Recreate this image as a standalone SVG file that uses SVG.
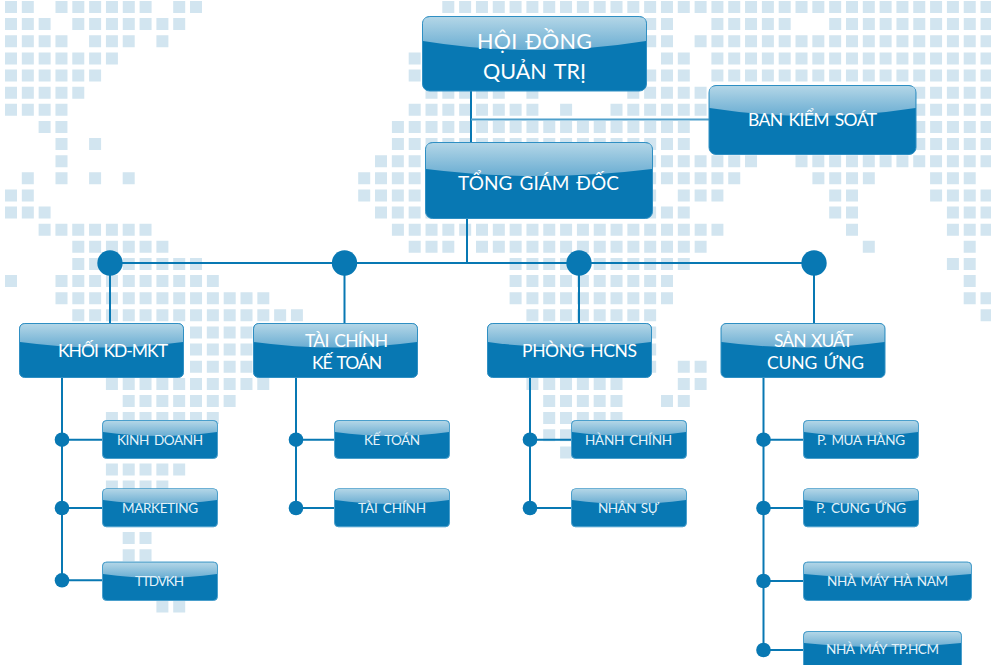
<svg xmlns="http://www.w3.org/2000/svg" width="991" height="665" viewBox="0 0 991 665">
<style>
.map{fill:none;stroke:#d2e5f0;stroke-width:12;stroke-dasharray:12 4.82}
.ln{fill:none;stroke:#0878b3;stroke-width:2}
.lt{fill:none;stroke:#4fa0cb;stroke-width:2}
.dot{fill:#0878b3}
.base{fill:#0878b3;stroke:#2f8fc3;stroke-width:1}
.sbase{fill:#0878b3;stroke:#4a9fcc;stroke-width:1}
.gloss{fill:url(#g)}
text{font-family:"Lato","Noto Sans","Liberation Sans",sans-serif;text-anchor:start;word-spacing:2px}
.t1{font-size:21.5px;fill:#fff}
.t2{font-size:17.5px;fill:#fff}
.t4{font-size:19px;fill:#fff}
.t3{font-size:13.5px;fill:#e3f2f9}
</style>
<defs>
<linearGradient id="g" x1="0" y1="0" x2="0" y2="1"><stop offset="0" stop-color="#b3d6e7"/><stop offset="1" stop-color="#6aadd2"/></linearGradient>
</defs>
<rect width="991" height="665" fill="#fff"/>
<path class="map" d="M5 7H33.8M55.5 7H151.6M173.2 7H202M442.3 7H992.6
M5 24.1H50.6M72.3 24.1H185.2M644.2 24.1H673M711.4 24.1H790.7M829.2 24.1H992.6
M5 41.3H67.5M89.1 41.3H134.7M156.4 41.3H168.4M644.2 41.3H673M694.6 41.3H992.6
M5 58.4H117.9M408.7 58.4H420.7M661 58.4H689.8M711.4 58.4H992.6
M5 75.5H101.1M408.7 75.5H420.7M644.2 75.5H689.8M711.4 75.5H992.6
M5 92.7H84.3M425.5 92.7H504.8M526.4 92.7H538.4M627.3 92.7H992.6
M5 109.8H67.5M408.7 109.8H538.4M560.1 109.8H572.1M610.5 109.8H992.6
M38.6 126.9H67.5M391.9 126.9H689.8M913.3 126.9H992.6
M55.5 144H67.5M89.1 144H101.1M391.9 144H689.8M913.3 144H992.6
M55.5 161.2H67.5M375 161.2H757.1M795.5 161.2H992.6
M21.8 178.3H33.8M55.5 178.3H67.5M89.1 178.3H101.1M122.7 178.3H134.7M358.2 178.3H740.3M812.4 178.3H874.8M930.1 178.3H975.7
M5 195.4H33.8M358.2 195.4H656.2M677.8 195.4H723.4M829.2 195.4H858M930.1 195.4H992.6
M5 212.6H50.6M375 212.6H689.8M829.2 212.6H858M946.9 212.6H992.6
M38.6 229.7H151.6M391.9 229.7H723.4M846 229.7H858M946.9 229.7H992.6
M72.3 246.8H168.4M408.7 246.8H454.3M476 246.8H706.6M862.8 246.8H874.8M963.7 246.8H975.7
M72.3 264H202M509.6 264H689.8M946.9 264H975.7
M5 281.1H17M55.5 281.1H218.8M509.6 281.1H673M963.7 281.1H975.7
M55.5 298.2H269.3M509.6 298.2H673M963.7 298.2H992.6
M72.3 315.3H302.9M526.4 315.3H656.2M980.6 315.3H992.6
M190 332.5H252.5M509.6 332.5H656.2
M190 349.6H252.5M509.6 349.6H656.2
M190 366.7H252.5M509.6 366.7H656.2M677.8 366.7H706.6
M105.9 383.9H269.3M526.4 383.9H622.5M677.8 383.9H706.6
M122.7 401H235.7M543.2 401H622.5M661 401H689.8
M105.9 418.1H218.8M543.2 418.1H622.5
M543.2 435.3H572.1
M560.1 452.4H572.1
M105.9 469.5H185.2
M105.9 486.6H168.4
M122.7 538H151.6
M122.7 555.2H151.6
M156.4 606.6H185.2"/>
<g id="connectors">
<path class="ln" d="M471 91V143"/>
<path class="lt" d="M471 119.5H709"/>
<path class="ln" d="M467 218V263M110 263H814M110 263V323M344.5 263V323M579 263V323M814 263V323"/>
<path class="ln" d="M62 378V580M62 439.7H103M62 508H103M62 580.3H103"/>
<path class="ln" d="M296 378V508M296 439.7H335M296 508H335"/>
<path class="ln" d="M530 378V508M530 439.7H572M530 508H572"/>
<path class="ln" d="M763.5 378V651M763.5 439.7H804M763.5 508H804M763.5 581H804M763.5 650H804"/>
<circle class="dot" cx="110" cy="263" r="12.7"/><circle class="dot" cx="344.5" cy="263" r="12.7"/><circle class="dot" cx="579" cy="263" r="12.7"/><circle class="dot" cx="814" cy="263" r="12.7"/>
<circle class="dot" cx="62" cy="439.7" r="7.3"/><circle class="dot" cx="62" cy="508" r="7.3"/><circle class="dot" cx="62" cy="580.3" r="7.3"/>
<circle class="dot" cx="296" cy="439.7" r="7.3"/><circle class="dot" cx="296" cy="508" r="7.3"/>
<circle class="dot" cx="530" cy="439.7" r="7.3"/><circle class="dot" cx="530" cy="508" r="7.3"/>
<circle class="dot" cx="763.5" cy="439.7" r="7.3"/><circle class="dot" cx="763.5" cy="508" r="7.3"/><circle class="dot" cx="763.5" cy="581" r="7.3"/><circle class="dot" cx="763.5" cy="650" r="7.3"/>
</g>
<g id="hoi-dong"><rect class="base" x="422.5" y="16.5" width="224" height="74.5" rx="7"/><path class="gloss" d="M423 41V23Q423 17 430 17H639Q646 17 646 23V41Q534 59 423 41Z"/>
<text class="t1" x="477" y="49" textLength="115">HỘI ĐỒNG</text><text class="t1" x="483" y="78.5" textLength="103">QUẢN TRỊ</text></g>
<g id="ban-kiem-soat"><rect class="base" x="709" y="85.5" width="207" height="69" rx="7"/><path class="gloss" d="M709.5 108V92Q709.5 86 716 86H909Q915.5 86 915.5 92V108Q812 124 709.5 108Z"/>
<text class="t2" x="748" y="126" textLength="129">BAN KIỂM SOÁT</text></g>
<g id="tong-giam-doc"><rect class="base" x="425.5" y="142.5" width="227" height="76" rx="7"/><path class="gloss" d="M426 169V149Q426 143 433 143H645Q652 143 652 149V169Q539 183 426 169Z"/>
<text class="t4" x="458" y="190" textLength="161">TỔNG GIÁM ĐỐC</text></g>
<g id="khoi-kd-mkt"><rect class="base" x="19.5" y="323.5" width="164" height="54" rx="5"/><path class="gloss" d="M20 342V329Q20 324 25 324H178Q183 324 183 329V342Q101 353 20 342Z"/>
<text class="t2" x="58" y="357" textLength="110">KHỐI KD-MKT</text></g>
<g id="tai-chinh-ke-toan"><rect class="base" x="253.5" y="323.5" width="164" height="54" rx="5"/><path class="gloss" d="M254 342V329Q254 324 259 324H412Q417 324 417 329V342Q335 353 254 342Z"/>
<text class="t2" x="305" y="347" textLength="83">TÀI CHÍNH</text><text class="t2" x="312" y="369" textLength="70">KẾ TOÁN</text></g>
<g id="phong-hcns"><rect class="base" x="487.5" y="323.5" width="164" height="54" rx="5"/><path class="gloss" d="M488 342V329Q488 324 493 324H646Q651 324 651 329V342Q569 353 488 342Z"/>
<text class="t2" x="522" y="357" textLength="115">PHÒNG HCNS</text></g>
<g id="san-xuat-cung-ung"><rect class="base" x="721" y="323.5" width="164" height="54" rx="5"/><path class="gloss" d="M721.5 342V329Q721.5 324 726.5 324H879.5Q884.5 324 884.5 329V342Q803 353 721.5 342Z"/>
<text class="t2" x="774" y="347" textLength="79">SẢN XUẤT</text><text class="t2" x="767" y="369" textLength="97">CUNG ỨNG</text></g>
<g id="kinh-doanh"><rect class="sbase" x="102.5" y="420.5" width="115" height="38" rx="4"/><path class="gloss" d="M103 432V425Q103 421 107 421H213Q217 421 217 425V432Q160 440 103 432Z"/>
<text class="t3" x="117" y="445" textLength="86">KINH DOANH</text></g>
<g id="marketing"><rect class="sbase" x="102.5" y="488.8" width="115" height="38" rx="4"/><path class="gloss" d="M103 500V493Q103 489 107 489H213Q217 489 217 493V500Q160 508 103 500Z"/>
<text class="t3" x="122" y="513" textLength="76">MARKETING</text></g>
<g id="ttdvkh"><rect class="sbase" x="102.5" y="562" width="115" height="38.5" rx="4"/><path class="gloss" d="M103 574V566.5Q103 562.5 107 562.5H213Q217 562.5 217 566.5V574Q160 582 103 574Z"/>
<text class="t3" x="135" y="586" textLength="49">TTDVKH</text></g>
<g id="ke-toan"><rect class="sbase" x="334.5" y="420.5" width="115" height="38" rx="4"/><path class="gloss" d="M335 432V425Q335 421 339 421H445Q449 421 449 425V432Q392 440 335 432Z"/>
<text class="t3" x="364" y="445" textLength="56">KẾ TOÁN</text></g>
<g id="tai-chinh"><rect class="sbase" x="334.5" y="488.8" width="115" height="38" rx="4"/><path class="gloss" d="M335 500V493Q335 489 339 489H445Q449 489 449 493V500Q392 508 335 500Z"/>
<text class="t3" x="358" y="513" textLength="68">TÀI CHÍNH</text></g>
<g id="hanh-chinh"><rect class="sbase" x="571.5" y="420.5" width="115" height="38" rx="4"/><path class="gloss" d="M572 432V425Q572 421 576 421H682Q686 421 686 425V432Q629 440 572 432Z"/>
<text class="t3" x="585" y="445" textLength="87">HÀNH CHÍNH</text></g>
<g id="nhan-su"><rect class="sbase" x="571.5" y="488.8" width="115" height="38" rx="4"/><path class="gloss" d="M572 500V493Q572 489 576 489H682Q686 489 686 493V500Q629 508 572 500Z"/>
<text class="t3" x="598" y="513" textLength="61">NHÂN SỰ</text></g>
<g id="mua-hang"><rect class="sbase" x="803.5" y="420.5" width="115" height="38" rx="4"/><path class="gloss" d="M804 432V425Q804 421 808 421H914Q918 421 918 425V432Q861 440 804 432Z"/>
<text class="t3" x="817" y="445" textLength="88">P. MUA HÀNG</text></g>
<g id="cung-ung"><rect class="sbase" x="803.5" y="488.8" width="115" height="38" rx="4"/><path class="gloss" d="M804 500V493Q804 489 808 489H914Q918 489 918 493V500Q861 508 804 500Z"/>
<text class="t3" x="816" y="513" textLength="90">P. CUNG ỨNG</text></g>
<g id="nha-may-ha-nam"><rect class="sbase" x="803.5" y="562" width="168" height="38.5" rx="4"/><path class="gloss" d="M804 574V566.5Q804 562.5 808 562.5H967Q971 562.5 971 566.5V574Q887 582 804 574Z"/>
<text class="t3" x="827" y="586" textLength="121">NHÀ MÁY HÀ NAM</text></g>
<g id="nha-may-tphcm"><rect class="sbase" x="803.5" y="631.5" width="158" height="40" rx="4"/><path class="gloss" d="M804 643V636Q804 632 808 632H957Q961 632 961 636V643Q882 651 804 643Z"/>
<text class="t3" x="826" y="654" textLength="113">NHÀ MÁY TP.HCM</text></g>
</svg>
